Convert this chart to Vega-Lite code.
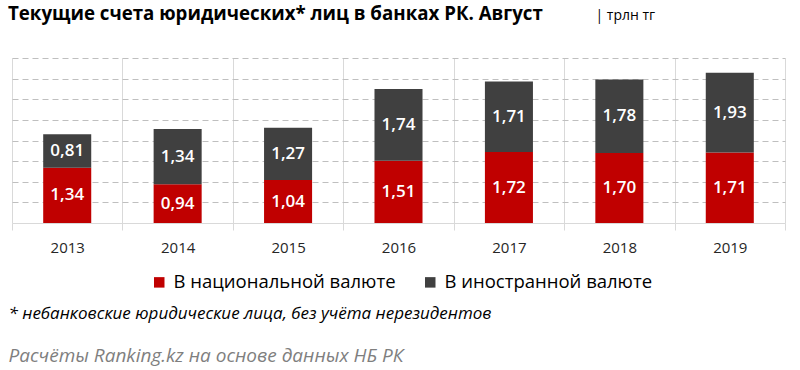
{
  "$schema": "https://vega.github.io/schema/vega-lite/v6.json",
  "width": 773,
  "height": 165,
  "autosize": {"type": "none"},
  "padding": {"left": 12, "top": 58, "right": 15, "bottom": 147},
  "background": "white",
  "config": {
    "font": "Open Sans",
    "view": {"stroke": null},
    "locale": {"number": {"decimal": ",", "thousands": " ", "grouping": [3], "currency": ["", ""]}}
  },
  "title": {
    "text": "Текущие счета юридических* лиц в банках РК. Август",
    "anchor": "start",
    "frame": "group",
    "fontSize": 18.7,
    "fontWeight": "bold",
    "color": "#000000",
    "baseline": "middle",
    "offset": -25,
    "dx": -4
  },
  "data": {
    "values": [
      {"year": "2013", "series": "В национальной валюте", "value": 1.34},
      {"year": "2013", "series": "В иностранной валюте", "value": 0.81},
      {"year": "2014", "series": "В национальной валюте", "value": 0.94},
      {"year": "2014", "series": "В иностранной валюте", "value": 1.34},
      {"year": "2015", "series": "В национальной валюте", "value": 1.04},
      {"year": "2015", "series": "В иностранной валюте", "value": 1.27},
      {"year": "2016", "series": "В национальной валюте", "value": 1.51},
      {"year": "2016", "series": "В иностранной валюте", "value": 1.74},
      {"year": "2017", "series": "В национальной валюте", "value": 1.72},
      {"year": "2017", "series": "В иностранной валюте", "value": 1.71},
      {"year": "2018", "series": "В национальной валюте", "value": 1.70},
      {"year": "2018", "series": "В иностранной валюте", "value": 1.78},
      {"year": "2019", "series": "В национальной валюте", "value": 1.71},
      {"year": "2019", "series": "В иностранной валюте", "value": 1.93}
    ]
  },
  "layer": [
    {
      "encoding": {
        "x": {
          "field": "year",
          "type": "nominal",
          "scale": {"paddingInner": 0, "paddingOuter": 0},
          "axis": {
            "labelAngle": 0,
            "labelFontSize": 15,
            "labelColor": "#262626",
            "labelPadding": 10,
            "grid": true,
            "gridColor": "#d9d9d9",
            "tickBand": "extent",
            "ticks": true,
            "tickColor": "#d9d9d9",
            "tickSize": 7,
            "domain": true,
            "domainColor": "#d9d9d9",
            "title": "* небанковские юридические лица, без учёта нерезидентов",
            "titleFontSize": 17,
            "titleFontStyle": "italic",
            "titleFontWeight": "normal",
            "titleColor": "#000000",
            "titleAnchor": "start",
            "titleAlign": "left",
            "titleBaseline": "middle",
            "titleX": -4,
            "titleY": 90
          }
        },
        "y": {
          "field": "value",
          "type": "quantitative",
          "stack": "zero",
          "scale": {"domain": [0, 4], "nice": false},
          "axis": {
            "values": [0.5, 1, 1.5, 2, 2.5, 3, 3.5, 4],
            "grid": true,
            "gridColor": "#bfbfbf",
            "gridDash": [6, 4],
            "labels": false,
            "ticks": false,
            "domain": false,
            "title": "| трлн тг",
            "titleAngle": 0,
            "titleFontSize": 14,
            "titleFontWeight": "normal",
            "titleColor": "#000000",
            "titleAlign": "left",
            "titleBaseline": "middle",
            "titleX": 583,
            "titleY": -43
          }
        },
        "order": {"field": "series", "sort": "descending"}
      },
      "layer": [
        {
          "mark": {"type": "bar", "width": {"band": 0.435}},
          "encoding": {
            "color": {
              "field": "series",
              "type": "nominal",
              "scale": {
                "domain": ["В национальной валюте", "В иностранной валюте"],
                "range": ["#c00000", "#404040"]
              },
              "legend": {
                "orient": "none",
                "legendX": 138,
                "legendY": 215,
                "direction": "horizontal",
                "title": null,
                "symbolType": "square",
                "symbolSize": 110,
                "symbolStrokeWidth": 0,
                "labelFontSize": 18.5,
                "labelLimit": 400,
                "labelColor": "#000000",
                "labelOffset": 5,
                "columnPadding": 25
              }
            }
          }
        },
        {
          "mark": {"type": "text", "color": "white", "fontSize": 17, "fontWeight": 600, "baseline": "middle"},
          "encoding": {
            "y": {"field": "value", "type": "quantitative", "stack": "zero", "bandPosition": 0.5},
            "text": {"field": "value", "type": "quantitative", "format": ".2f"}
          }
        }
      ]
    },
    {
      "data": {"values": [{"note": "source"}]},
      "mark": {"type": "rule", "opacity": 0},
      "encoding": {
        "y": {
          "datum": 0,
          "type": "quantitative",
          "scale": {"domain": [0, 1], "nice": false},
          "axis": {
            "orient": "right",
            "grid": false,
            "labels": false,
            "ticks": false,
            "domain": false,
            "title": "Расчёты Ranking.kz на основе данных НБ РК",
            "titleAngle": 0,
            "titleFontSize": 19,
            "titleFontStyle": "italic",
            "titleFontWeight": "normal",
            "titleColor": "#7f7f7f",
            "titleAlign": "left",
            "titleBaseline": "middle",
            "titleX": -777,
            "titleY": 297,
            "titleLimit": 800
          }
        }
      }
    }
  ],
  "resolve": {"scale": {"y": "independent"}}
}
